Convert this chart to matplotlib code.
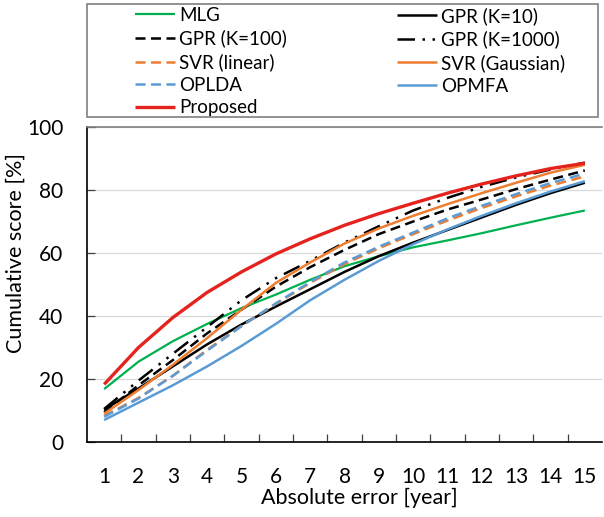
import matplotlib
matplotlib.use("Agg")
import matplotlib.pyplot as plt
from matplotlib.patches import Rectangle

plt.rcParams['font.family'] = ['Lato', 'DejaVu Sans']

# absolute error [year]
x_err = list(range(1, 16))

# cumulative score [%] per method
mlg = [16.8, 25.5, 32.0, 37.5, 42.5, 46.8, 51.5, 55.8, 59.0, 61.8, 64.0, 66.3, 68.8, 71.2, 73.5]
gpr_10 = [10.3, 17.0, 24.0, 31.0, 37.3, 43.0, 48.5, 54.0, 59.0, 63.3, 67.3, 71.3, 75.3, 79.0, 82.3]
gpr_100 = [9.5, 18.0, 26.0, 34.5, 42.0, 49.3, 55.5, 61.0, 66.0, 70.0, 73.8, 77.0, 80.3, 83.3, 86.2]
gpr_1000 = [10.5, 19.5, 28.0, 36.5, 45.0, 52.0, 57.5, 63.3, 68.5, 73.5, 77.5, 81.0, 84.0, 86.5, 88.7]
svr_lin = [8.3, 14.0, 21.0, 29.3, 36.8, 43.8, 50.5, 56.5, 61.5, 66.0, 70.3, 74.3, 78.0, 81.4, 84.3]
svr_gauss = [9.0, 16.5, 24.5, 33.0, 42.0, 50.5, 57.0, 63.0, 67.8, 71.8, 75.5, 79.0, 82.3, 85.5, 88.0]
oplda = [8.0, 13.8, 21.0, 29.0, 36.8, 44.0, 50.8, 57.0, 62.0, 66.5, 71.0, 75.0, 78.7, 82.2, 85.2]
opmfa = [7.0, 12.5, 18.0, 24.0, 30.5, 37.5, 45.0, 51.5, 57.5, 62.8, 67.5, 71.8, 75.8, 79.5, 82.8]
proposed = [18.3, 30.0, 39.5, 47.5, 54.0, 59.7, 64.5, 68.8, 72.5, 75.8, 79.0, 81.9, 84.5, 86.8, 88.5]

green = '#00B050'
orange = '#ED7D31'
blue = '#5B9BD5'
red = '#E5231E'

fig = plt.figure(figsize=(6.04, 5.17), dpi=100)
ax = fig.add_axes([87/604, 1-442/517, 515/604, 315/517])

series = [
    ('MLG', mlg, dict(color=green, lw=1.6)),
    ('GPR (K=10)', gpr_10, dict(color='black', lw=1.8)),
    ('GPR (K=100)', gpr_100, dict(color='black', lw=1.8, dashes=(4, 2.2))),
    ('GPR (K=1000)', gpr_1000, dict(color='black', lw=1.8, dashes=(7, 3, 1, 3, 1, 3))),
    ('SVR (linear)', svr_lin, dict(color=orange, lw=1.8, dashes=(4, 2.2))),
    ('SVR (Gaussian)', svr_gauss, dict(color=orange, lw=1.8)),
    ('OPLDA', oplda, dict(color=blue, lw=1.8, dashes=(4, 2.2))),
    ('OPMFA', opmfa, dict(color=blue, lw=1.8)),
    ('Proposed', proposed, dict(color=red, lw=2.4)),
]

handles = {}
for name, vals, st in series:
    line, = ax.plot(x_err, vals, label=name, solid_capstyle='butt', dash_capstyle='butt',
                    solid_joinstyle='round', **st)
    handles[name] = line

ax.set_xlim(0.5, 15.5)
ax.set_ylim(0, 100)
ax.set_yticks(range(0, 101, 20))
ax.grid(axis='y', color='#D9D9D9', lw=0.9)
ax.set_axisbelow(True)

ax.set_xticks([i + 0.5 for i in range(1, 15)])
ax.set_xticklabels([])
ax.set_xticks(x_err, minor=True)
ax.set_xticklabels([str(i) for i in x_err], minor=True)
ax.tick_params(axis='x', which='major', direction='in', length=6, width=0.9, color='#404040')
ax.tick_params(axis='x', which='minor', length=0, pad=18, labelsize=15)
ax.tick_params(axis='y', direction='in', length=6, width=0.9, color='#404040', pad=17, labelsize=15)

for s in ['left', 'bottom']:
    ax.spines[s].set_color('black')
    ax.spines[s].set_linewidth(1.2)
ax.spines['right'].set_visible(False)
ax.spines['top'].set_color('#7F7F7F')
ax.spines['top'].set_linewidth(1.2)

ax.set_xlabel('Absolute error [year]', fontsize=15.5)
ax.set_ylabel('Cumulative score [%]', fontsize=15.5)
ax.xaxis.set_label_coords((359-87)/515, (442-498)/315)
ax.xaxis.label.set_va('center')
ax.yaxis.set_label_coords((16-87)/515, (442-253)/315)
ax.yaxis.label.set_va('center')

# legend: two columns inside a framed box above the plot
col1 = ['MLG', 'GPR (K=100)', 'SVR (linear)', 'OPLDA', 'Proposed']
col2 = ['GPR (K=10)', 'GPR (K=1000)', 'SVR (Gaussian)', 'OPMFA']
leg_kw = dict(frameon=False, fontsize=13.5, handlelength=2.15, handletextpad=0.2,
              labelspacing=0.3, borderpad=0, borderaxespad=0, loc='upper left')
fig.legend([handles[n] for n in col1], col1, bbox_to_anchor=(135/604, 1-7/517), **leg_kw)
fig.legend([handles[n] for n in col2], col2, bbox_to_anchor=(397/604, 1-7/517), **leg_kw)
fig.patches.append(Rectangle((87/604, 1-117/517), (598-87)/604, 113/517,
                             transform=fig.transFigure, fill=False, ec='#7F7F7F', lw=1.2))

fig.savefig('out.png', dpi=100)
